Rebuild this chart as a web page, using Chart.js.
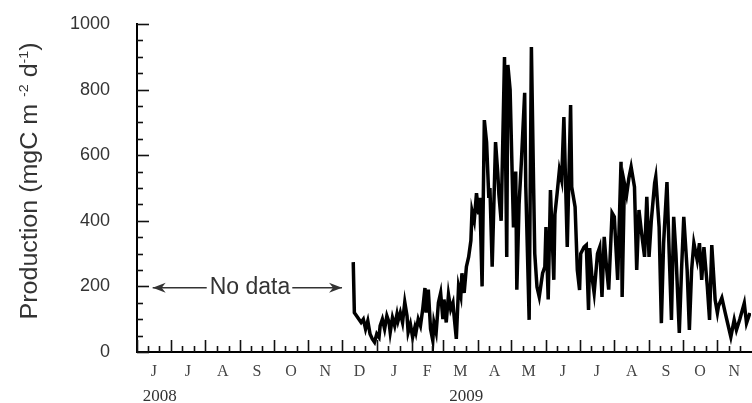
<!DOCTYPE html>
<html>
<head>
<script src="https://cdn.jsdelivr.net/npm/chart.js"></script>
<title>Production</title>
<style>
  html, body { margin: 0; padding: 0; background: #fff; }
</style>
</head>
<body>
<canvas id="myChart" width="752" height="403"></canvas>
<script>
// x values are days counted from 1 June 2008
const monthLabels = ['J','J','A','S','O','N','D','J','F','M','A','M','J','J','A','S','O','N'];
const monthStarts = [0,30,61,92,122,153,183,214,245,273,304,334,365,395,426,457,487,518,548];
const yearLabels = ['2008','2009'];
const yearMonthIndex = [0, 9];
const yTickLabels = [0,200,400,600,800,1000];

const days = [
  193,194,197,200,202,204,206,208,210,212,
  214,216,217,219,221,223,225,226,228,230,
  232,233,235,237,239,241,242,244,246,248,
  249,251,253,255,257,258,260,262,264,265,
  267,269,271,273,274,276,278,280,282,283,
  285,287,289,290,292,294,296,298,299,301,
  303,305,306,308,310,312,314,315,317,320,
  322,323,325,328,330,331,333,336,338,339,
  341,343,346,347,350,352,354,355,357,359,
  362,364,365,367,369,372,373,375,377,379,
  381,384,387,388,391,393,395,396,399,401,
  403,404,406,408,411,413,415,417,419,421,
  424,426,429,430,432,433,435,437,439,441,
  444,446,448,450,453,455,457,459,462,463,
  466,468,470,473,475,477,479,481,484,486,
  488,491,493,495,497,500,502,504,506,509,
  511,513,516,518,519,522,525,527,530,533,
  535,538,542,544,547
];
const production = [
  274,120,105,90,100,70,95,55,40,30,
  55,45,80,100,70,110,90,60,105,80,
  115,95,120,90,152,110,60,85,45,75,
  60,100,80,130,195,120,190,70,35,90,
  60,150,180,100,160,90,175,130,150,110,
  40,200,170,240,180,260,290,340,430,400,
  484,420,470,200,707,640,470,500,260,640,
  545,480,400,899,290,875,800,380,550,190,
  450,576,790,503,98,930,500,300,198,168,
  240,260,381,160,494,220,420,485,555,524,
  716,320,753,503,442,250,189,300,320,326,
  128,317,230,180,300,320,168,351,260,190,
  424,412,220,341,580,168,515,480,530,564,
  503,250,433,372,290,473,290,400,515,534,
  381,88,332,518,300,98,412,300,58,250,
  412,250,67,250,332,280,332,220,320,200,
  98,326,159,119,140,165,119,90,46,98,
  67,100,149,88,119
];

const sans = '"Liberation Sans", Arial, Helvetica, sans-serif';
const serif = '"Liberation Serif", "Times New Roman", serif';

const decor = {
  id: 'decor',
  afterDraw(chart) {
    const ctx = chart.ctx;
    const xs = chart.scales.x, ys = chart.scales.y;
    const left = chart.chartArea.left, bottom = chart.chartArea.bottom;
    ctx.save();
    ctx.strokeStyle = '#111';
    ctx.lineWidth = 1.6;
    // y tick marks pointing inside
    ys.ticks.forEach(t => {
      const py = Math.round(ys.getPixelForValue(t.value)) + 0.5;
      const len = yTickLabels.includes(t.value) ? 12 : 6;
      ctx.beginPath(); ctx.moveTo(left, py); ctx.lineTo(left + len, py); ctx.stroke();
    });
    // x tick marks: month starts long, thirds short
    for (let i = 0; i < monthStarts.length - 1; i++) {
      const a = monthStarts[i], b = monthStarts[i + 1];
      [[a, 12], [a + (b - a) / 3, 6], [a + 2 * (b - a) / 3, 6]].forEach(([d, len]) => {
        const px = Math.round(xs.getPixelForValue(d)) + 0.5;
        ctx.beginPath(); ctx.moveTo(px, bottom); ctx.lineTo(px, bottom - len); ctx.stroke();
      });
    }
    // year labels
    ctx.fillStyle = '#333';
    ctx.font = '17px ' + serif;
    ctx.textAlign = 'center';
    ctx.textBaseline = 'alphabetic';
    yearLabels.forEach((lab, i) => {
      const m = yearMonthIndex[i];
      const px = xs.getPixelForValue((monthStarts[m] + monthStarts[m + 1]) / 2) + 6;
      ctx.fillText(lab, px, 401);
    });
    // "No data" annotation with arrows
    const ay = ys.getPixelForValue(196);
    const x1 = xs.getPixelForValue(14), x2 = xs.getPixelForValue(183);
    ctx.font = '23px ' + sans;
    const label = 'No data';
    const tw = ctx.measureText(label).width;
    const tx = 250;
    ctx.fillText(label, tx, ay + 6);
    ctx.strokeStyle = '#333';
    ctx.lineWidth = 1.5;
    ctx.beginPath();
    ctx.moveTo(x1, ay); ctx.lineTo(tx - tw / 2 - 3, ay);
    ctx.moveTo(tx + tw / 2 + 2, ay); ctx.lineTo(x2, ay);
    ctx.stroke();
    ctx.fillStyle = '#333';
    ctx.beginPath();
    ctx.moveTo(x1, ay); ctx.lineTo(x1 + 13, ay - 5); ctx.lineTo(x1 + 9, ay); ctx.lineTo(x1 + 13, ay + 5); ctx.closePath();
    ctx.moveTo(x2, ay); ctx.lineTo(x2 - 13, ay - 5); ctx.lineTo(x2 - 9, ay); ctx.lineTo(x2 - 13, ay + 5); ctx.closePath();
    ctx.fill();
    // y axis title with superscripts
    const big = '23px ' + sans, small = '13px ' + sans;
    const parts = [['Production (mgC m ', big, 0], ['-2', small, -9], [' d', big, 0], ['-1', small, -9], [')', big, 0]];
    let total = 0;
    parts.forEach(p => { ctx.font = p[1]; p.push(ctx.measureText(p[0]).width); total += p[3]; });
    const s = 277 / total;
    ctx.translate(0, 181);
    ctx.rotate(-Math.PI / 2);
    ctx.scale(s, 1);
    ctx.textAlign = 'left';
    let cx = -total / 2;
    parts.forEach(p => {
      ctx.font = p[1];
      ctx.fillText(p[0], cx, 37 + p[2]);
      cx += p[3];
    });
    ctx.restore();
  }
};

const config = {
  type: 'line',
  data: {
    datasets: [{
      data: days.map((d, i) => ({ x: d, y: production[i] })),
      borderColor: '#000',
      borderWidth: 3.5,
      pointRadius: 0,
      tension: 0,
      fill: false
    }]
  },
  options: {
    responsive: false,
    animation: false,
    layout: { padding: { top: 24, right: 1, left: 0, bottom: 0 } },
    plugins: { legend: { display: false }, tooltip: { enabled: false } },
    scales: {
      x: {
        type: 'linear',
        min: 0,
        max: 548,
        grid: { display: false },
        border: { display: true, color: '#000', width: 2 },
        afterBuildTicks: scale => {
          scale.ticks = monthLabels.map((l, i) => ({ value: (monthStarts[i] + monthStarts[i + 1]) / 2 }));
        },
        afterFit: scale => { scale.height = 51; },
        ticks: {
          autoSkip: false,
          maxRotation: 0,
          padding: 2,
          color: '#444',
          font: { family: serif, size: 16 },
          callback: (v, i) => monthLabels[i]
        }
      },
      y: {
        min: 0,
        max: 1000,
        grid: { display: false },
        border: { display: true, color: '#000', width: 2 },
        afterFit: scale => { scale.width = 137; scale.paddingTop = 0; },
        ticks: {
          stepSize: 50,
          autoSkip: false,
          padding: 19,
          color: '#333',
          font: { family: sans, size: 18 },
          callback: v => yTickLabels.includes(v) ? v : ''
        }
      }
    }
  },
  plugins: [decor]
};

new Chart(document.getElementById('myChart'), config);
</script>
</body>
</html>
